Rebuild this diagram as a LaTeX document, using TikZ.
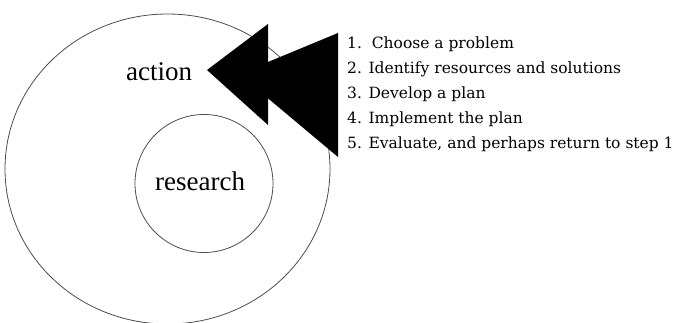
\documentclass[tikz,border=0pt]{standalone}
\usepackage{fontspec}
\setmainfont{Liberation Serif}
\newfontfamily\listfont{DejaVu Serif}
\begin{document}
\begin{tikzpicture}[x=1pt,y=-1pt,
    ring/.style={draw=black!70,line width=0.8pt},
    word/.style={font=\fontsize{27}{27}\selectfont,anchor=base west,inner sep=0pt},
    item/.style={font=\listfont\fontsize{15.5}{15.5}\selectfont,anchor=base west,inner sep=0pt}]
  \useasboundingbox (0,0) rectangle (673,322);
  \draw[ring] (167.5,169) ellipse [x radius=162.5,y radius=155];
  \draw[ring] (204,183.5) circle [radius=69];
  \node[word] (action) at (126,80) {action};
  \node[word] (research) at (155,190) {research};
  \fill (239,74) -- (338,33) -- (338,157) -- cycle;
  \fill (207,70) -- (268,24) -- (268,125) -- cycle;
  \draw
    (347,48) node[item] (1){1.\ \ Choose a problem}
    (347,73) node[item] (2){2. Identify resources and solutions}
    (347,98) node[item] (3){3. Develop a plan}
    (347,123) node[item] (4){4. Implement the plan}
    (347,148) node[item] (5){5. Evaluate, and perhaps return to step 1};
\end{tikzpicture}
\end{document}
